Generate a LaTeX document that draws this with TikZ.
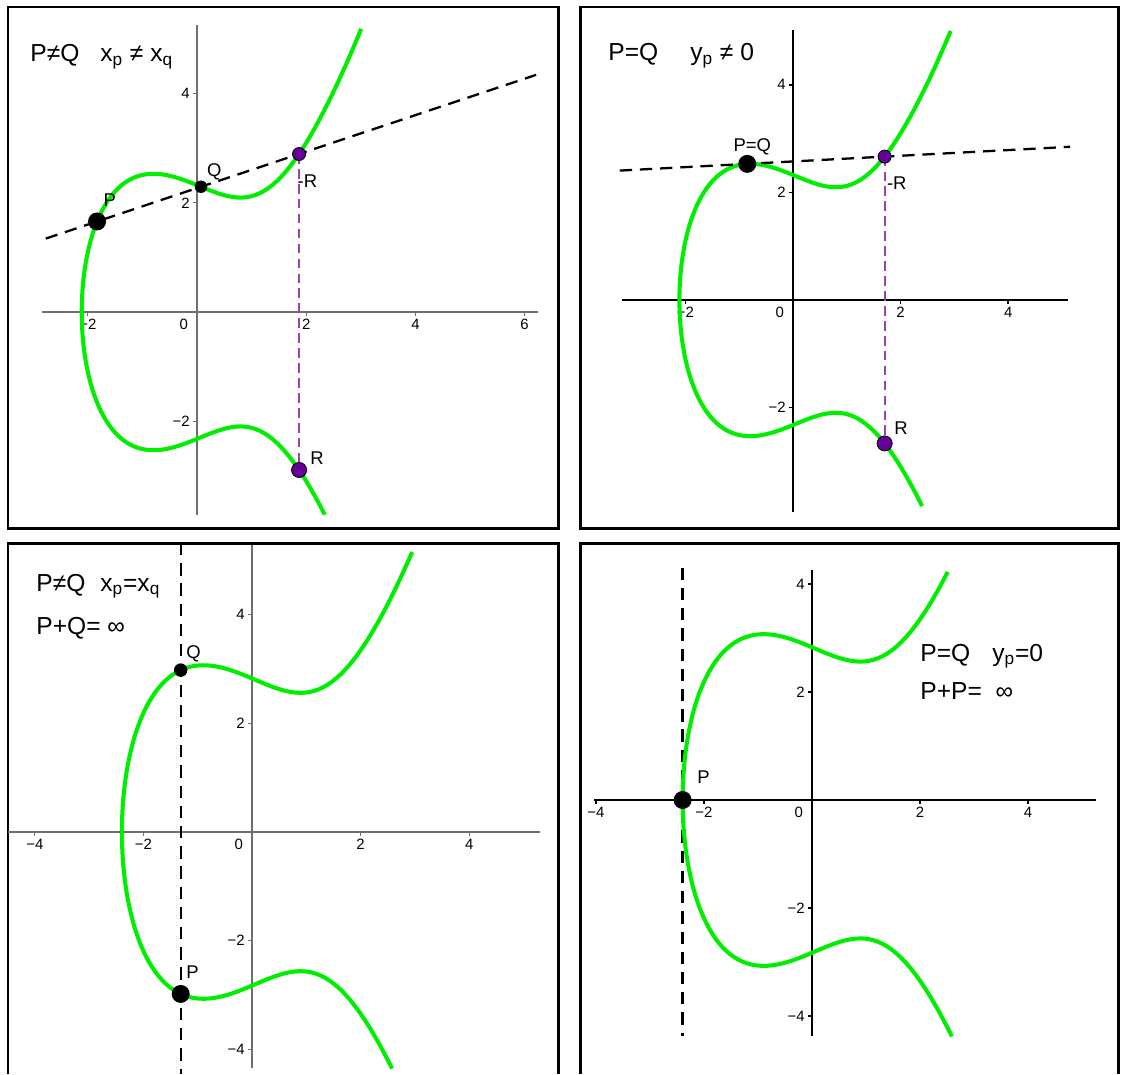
\documentclass[tikz,border=0pt]{standalone}
\usepackage{fontspec}
\setmainfont{Liberation Sans}
\definecolor{curvegreen}{RGB}{0,238,0}
\definecolor{ptpurple}{RGB}{102,0,153}
\definecolor{dashpurple}{RGB}{150,70,165}
\definecolor{axisgray}{RGB}{110,110,110}
\newcommand{\ttlfnt}{\fontsize{14}{16}\selectfont}
\newcommand{\ptfnt}{\fontsize{10.5}{12}\selectfont}
\newcommand{\tickfnt}{\fontsize{8.5}{10}\selectfont}

\begin{document}
\begin{tikzpicture}[
		declare function={fa(\u)=(\u)*(\u)*(\u)-1.9*(\u)+5.4; fb(\u)=(\u)*(\u)*(\u)-2.4*(\u)+8;},
		panelframe/.style={line width=1.7pt},
		ecurve/.style={curvegreen, line width=2.3pt},
		thinaxis/.style={axisgray, line width=0.6pt},
		thickaxis/.style={black, line width=0.9pt},
		secant/.style={black, line width=1.3pt, dash pattern=on 7pt off 4.5pt},
		mirror/.style={dashpurple, line width=1.1pt, dash pattern=on 5.5pt off 3pt},
		bigdot/.style={circle, fill=black, inner sep=0pt, minimum size=0.36cm},
		smalldot/.style={circle, fill=black, inner sep=0pt, minimum size=0.25cm},
		pdot/.style={circle, fill=ptpurple, draw=black, line width=0.5pt, inner sep=0pt, minimum size=0.26cm},
		pbigdot/.style={pdot, minimum size=0.3cm},
		ptlabel/.style={anchor=base west, inner sep=0pt, font=\ptfnt},
		headtext/.style={anchor=base west, inner sep=0pt, font=\ttlfnt},
		xlab/.style={anchor=north, inner sep=0pt, yshift=-4pt, font=\tickfnt},
		ylab/.style={anchor=east, inner sep=0pt, xshift=-4pt, font=\tickfnt},
	]
		\useasboundingbox (0,0) rectangle (22.44,-21.48);

		\draw[panelframe] (0.16,-0.14) rectangle (11.16,-10.56);
		\draw[panelframe] (11.60,-0.14) rectangle (22.36,-10.56);
		\draw[panelframe] (0.16,-21.48) -- (0.16,-10.86) -- (11.16,-10.86) -- (11.16,-21.48);
		\draw[panelframe] (11.60,-21.48) -- (11.60,-10.86) -- (22.36,-10.86) -- (22.36,-21.48);

		\node[headtext] (h1a) at (0.60,-1.24) {P≠Q};
		\node[headtext] (h1b) at (2.00,-1.24) {x\textsubscript{p} ≠ x\textsubscript{q}};
		\node[headtext] (h2a) at (12.16,-1.22) {P=Q};
		\node[headtext] (h2b) at (13.80,-1.22) {y\textsubscript{p} ≠ 0};
		\node[headtext] (h3a) at (0.72,-11.82) {P≠Q};
		\node[headtext] (h3b) at (2.00,-11.82) {x\textsubscript{p}=x\textsubscript{q}};
		\node[headtext] (h3c) at (0.72,-12.68) {P+Q= ∞};
		\node[headtext] (h4a) at (18.40,-13.22) {P=Q};
		\node[headtext] (h4b) at (19.84,-13.22) {y\textsubscript{p}=0};
		\node[headtext] (h4c) at (18.40,-13.98) {P+P=\ \ ∞};

		% P != Q, x_p != x_q
		\begin{scope}[shift={(3.94,-6.24)}, scale=1.092]
			\draw[thinaxis] (-2.84,0) -- (6.25,0);
			\draw[thinaxis] (0,-3.72) -- (0,5.26);
			\draw[thinaxis] (-2,0) -- (-2,-0.07);
			\draw[thinaxis] (2,0) -- (2,-0.07);
			\draw[thinaxis] (4,0) -- (4,-0.07);
			\draw[thinaxis] (6,0) -- (6,-0.07);
			\draw[thinaxis] (0,4) -- (-0.07,4);
			\draw[thinaxis] (0,2) -- (-0.07,2);
			\draw[thinaxis] (0,-2) -- (-0.07,-2);
			\node[xlab] (t1xa) at (-2,0) {−2};
			\node[xlab, anchor=north east, xshift=-5pt] (t1xb) at (0,0) {0};
			\node[xlab] (t1xc) at (2,0) {2};
			\node[xlab] (t1xd) at (4,0) {4};
			\node[xlab] (t1xe) at (6,0) {6};
			\node[ylab] (t1ya) at (0,4) {4};
			\node[ylab] (t1yb) at (0,2) {2};
			\node[ylab] (t1yc) at (0,-2) {−2};

			\draw[ecurve] plot[domain=-2.110:2.265, samples=200] ({-2.1113+(\x)*(\x)}, {sign(\x)*sqrt(max(0,fa(-2.1113+(\x)*(\x))))});

			\coordinate (P1) at (-1.83,1.658);
			\coordinate (Q1) at (0.073,2.294);
			\coordinate (MR1) at (1.869,2.893);
			\coordinate (R1) at (1.869,-2.893);
			\coordinate (S1a) at (-2.77,1.344);
			\coordinate (S1b) at (6.21,4.343);
			\draw[secant] (S1a) -- (S1b);
			\draw[mirror] (MR1) -- (R1);
			\node[bigdot] (P1dot) at (P1) {};
			\node[smalldot] (Q1dot) at (Q1) {};
			\node[pdot] (MR1dot) at (MR1) {};
			\node[pbigdot] (R1dot) at (R1) {};
			\node[ptlabel] (P1lab) at (-1.716,1.941) {P};
			\node[ptlabel] (Q1lab) at (0.178,2.478) {Q};
			\node[ptlabel] (MR1lab) at (1.837,2.284) {-R};
			\node[ptlabel] (R1lab) at (2.07,-2.784) {R};
		\end{scope}

		% P = Q, y_p != 0
		\begin{scope}[shift={(15.86,-6.00)}, scale=1.076]
			\draw[thickaxis] (-3.18,0) -- (5.11,0);
			\draw[thickaxis] (0,-3.94) -- (0,5.02);
			\draw[thickaxis] (-2,0) -- (-2,-0.07);
			\draw[thickaxis] (2,0) -- (2,-0.07);
			\draw[thickaxis] (4,0) -- (4,-0.07);
			\draw[thickaxis] (0,4) -- (-0.07,4);
			\draw[thickaxis] (0,2) -- (-0.07,2);
			\draw[thickaxis] (0,-2) -- (-0.07,-2);
			\node[xlab] (t2xa) at (-2,0) {−2};
			\node[xlab, anchor=north east, xshift=-5pt] (t2xb) at (0,0) {0};
			\node[xlab] (t2xc) at (2,0) {2};
			\node[xlab] (t2xd) at (4,0) {4};
			\node[ylab] (t2ya) at (0,4) {4};
			\node[ylab] (t2yb) at (0,2) {2};
			\node[ylab] (t2yc) at (0,-2) {−2};

			\draw[ecurve] plot[domain=-2.124:2.2475, samples=200] ({-2.1113+(\x)*(\x)}, {sign(\x)*sqrt(max(0,fa(-2.1113+(\x)*(\x))))});

			\coordinate (P2) at (-0.85,2.530);
			\coordinate (MR2) at (1.7028,2.665);
			\coordinate (R2) at (1.7028,-2.665);
			\coordinate (S2a) at (-3.22,2.405);
			\coordinate (S2b) at (5.15,2.847);
			\draw[secant] (S2a) -- (S2b);
			\draw[mirror] (MR2) -- (R2);
			\node[bigdot] (P2dot) at (P2) {};
			\node[pdot] (MR2dot) at (MR2) {};
			\node[pbigdot] (R2dot) at (R2) {};
			\node[ptlabel] (P2lab) at (-1.11,2.757) {P=Q};
			\node[ptlabel] (MR2lab) at (1.742,2.045) {-R};
			\node[ptlabel] (R2lab) at (1.877,-2.509) {R};
		\end{scope}

		% P != Q, x_p = x_q
		\begin{scope}[shift={(5.04,-16.64)}, scale=1.086]
			\draw[thinaxis] (-4.49,0) -- (5.30,0);
			\draw[thinaxis] (0,-4.35) -- (0,5.29);
			\draw[thinaxis] (-4,0) -- (-4,-0.07);
			\draw[thinaxis] (-2,0) -- (-2,-0.07);
			\draw[thinaxis] (2,0) -- (2,-0.07);
			\draw[thinaxis] (4,0) -- (4,-0.07);
			\draw[thinaxis] (0,4) -- (-0.07,4);
			\draw[thinaxis] (0,2) -- (-0.07,2);
			\draw[thinaxis] (0,-2) -- (-0.07,-2);
			\draw[thinaxis] (0,-4) -- (-0.07,-4);
			\node[xlab] (t3xa) at (-4,0) {−4};
			\node[xlab] (t3xb) at (-2,0) {−2};
			\node[xlab, anchor=north east, xshift=-5pt] (t3xc) at (0,0) {0};
			\node[xlab] (t3xd) at (2,0) {2};
			\node[xlab] (t3xe) at (4,0) {4};
			\node[ylab] (t3ya) at (0,4) {4};
			\node[ylab] (t3yb) at (0,2) {2};
			\node[ylab] (t3yc) at (0,-2) {−2};
			\node[ylab] (t3yd) at (0,-4) {−4};

			\draw[ecurve] plot[domain=-2.2306:2.312, samples=200] ({-2.3957+(\x)*(\x)}, {sign(\x)*sqrt(max(0,fb(-2.3957+(\x)*(\x))))});

			\coordinate (Q3) at (-1.313,2.981);
			\coordinate (P3) at (-1.313,-2.981);
			\coordinate (V3a) at (-1.313,5.32);
			\coordinate (V3b) at (-1.313,-4.46);
			\draw[secant] (V3a) -- (V3b);
			\node[smalldot, minimum size=0.27cm] (Q3dot) at (Q3) {};
			\node[bigdot] (P3dot) at (P3) {};
			\node[ptlabel] (Q3lab) at (-1.215,3.199) {Q};
			\node[ptlabel] (P3lab) at (-1.215,-2.689) {P};
		\end{scope}

		% P = Q, y_p = 0
		\begin{scope}[shift={(16.24,-16.00)}, scale=1.08]
			\draw[thickaxis] (-4.04,0) -- (5.26,0);
			\draw[thickaxis] (0,-4.37) -- (0,4.26);
			\draw[thickaxis] (-4,0) -- (-4,-0.07);
			\draw[thickaxis] (-2,0) -- (-2,-0.07);
			\draw[thickaxis] (2,0) -- (2,-0.07);
			\draw[thickaxis] (4,0) -- (4,-0.07);
			\draw[thickaxis] (0,4) -- (-0.07,4);
			\draw[thickaxis] (0,2) -- (-0.07,2);
			\draw[thickaxis] (0,-2) -- (-0.07,-2);
			\draw[thickaxis] (0,-4) -- (-0.07,-4);
			\node[xlab] (t4xa) at (-4,0) {−4};
			\node[xlab] (t4xb) at (-2,0) {−2};
			\node[xlab, anchor=north east, xshift=-5pt] (t4xc) at (0,0) {0};
			\node[xlab] (t4xd) at (2,0) {2};
			\node[xlab] (t4xe) at (4,0) {4};
			\node[ylab] (t4ya) at (0,4) {4};
			\node[ylab] (t4yb) at (0,2) {2};
			\node[ylab] (t4yc) at (0,-2) {−2};
			\node[ylab] (t4yd) at (0,-4) {−4};

			\coordinate (V4a) at (-2.3957,4.30);
			\coordinate (V4b) at (-2.3957,-4.37);
			\draw[secant] (V4a) -- (V4b);
			\draw[ecurve] plot[domain=-2.2329:2.2171, samples=200] ({-2.3957+(\x)*(\x)}, {sign(\x)*sqrt(max(0,fb(-2.3957+(\x)*(\x))))});

			\coordinate (P4) at (-2.3957,0);
			\node[bigdot] (P4dot) at (P4) {};
			\node[ptlabel] (P4lab) at (-2.13,0.315) {P};
		\end{scope}
	\end{tikzpicture}
\end{document}
